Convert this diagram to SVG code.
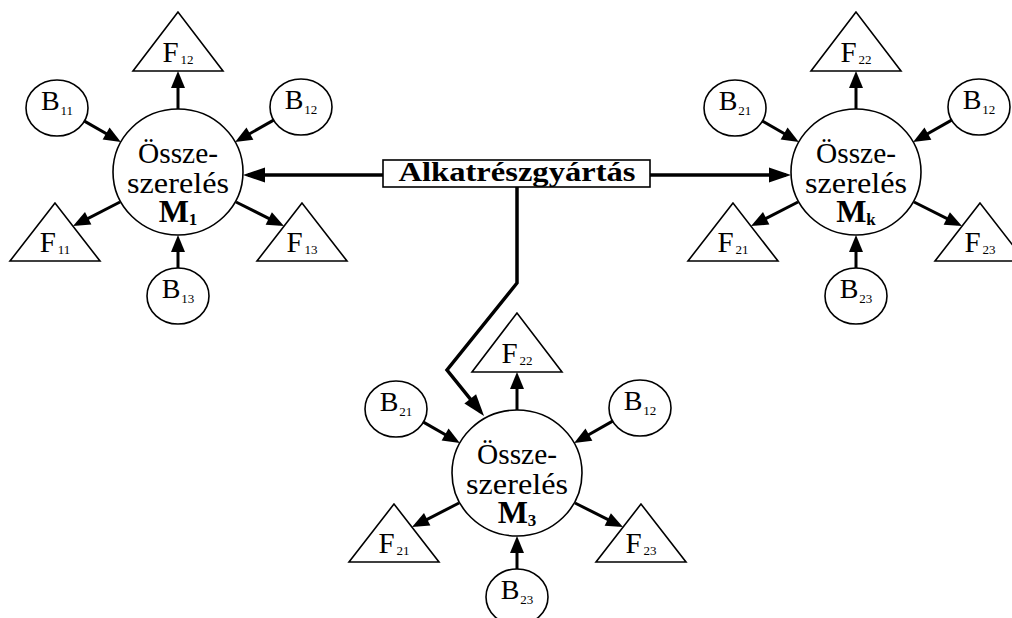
<svg xmlns="http://www.w3.org/2000/svg" width="1012" height="618" viewBox="0 0 1012 618">
<style>
.node{fill:#fff;stroke:#000;stroke-width:1.6}
.t{fill:#000;font-family:"Liberation Serif","DejaVu Serif",serif}
.main{font-size:29px}
.mm{font-size:32px;font-weight:bold}
.ms{font-size:17px;font-weight:bold}
.bl{font-size:28px}
.fl{font-size:29px}
.sub{font-size:13px}
.e{stroke:#000;stroke-width:3;fill:none}
.big{stroke:#000;stroke-width:3.5;fill:none;stroke-linejoin:miter}
</style>
<defs>
<marker id="ah" markerUnits="userSpaceOnUse" viewBox="-12 -7 17 14" refX="0" refY="0" markerWidth="17" markerHeight="14" orient="auto" overflow="visible">
<path d="M5,0 L-12,-7 L-12,7 Z" fill="#000"/>
</marker>
<marker id="ahb" markerUnits="userSpaceOnUse" viewBox="-17 -8 22 16" refX="0" refY="0" markerWidth="22" markerHeight="16" orient="auto" overflow="visible">
<path d="M5,0 L-17,-7.5 L-17,7.5 Z" fill="#000"/>
</marker>
</defs>
<rect width="1012" height="618" fill="#fff"/>

<g id="connectors">
<line class="big" x1="383" y1="175" x2="248" y2="175" marker-end="url(#ahb)"/>
<line class="big" x1="650" y1="175" x2="786" y2="175" marker-end="url(#ahb)"/>
<polyline class="big" points="517,187 517,283 447,370 480.9,412.1" marker-end="url(#ahb)"/>
<g transform="translate(178,172)">
<line class="e" x1="0" y1="-63" x2="0" y2="-96" marker-end="url(#ah)"/>
<line class="e" x1="-93.6" y1="-50.9" x2="-61.5" y2="-32.5" marker-end="url(#ah)"/>
<line class="e" x1="95.6" y1="-51.9" x2="61.5" y2="-32.5" marker-end="url(#ah)"/>
<line class="e" x1="-58" y1="30" x2="-100.5" y2="51.8" marker-end="url(#ah)"/>
<line class="e" x1="58" y1="30" x2="101.5" y2="51.8" marker-end="url(#ah)"/>
<line class="e" x1="0" y1="96" x2="0" y2="68" marker-end="url(#ah)"/>
</g>
<g transform="translate(856,172)">
<line class="e" x1="0" y1="-63" x2="0" y2="-96" marker-end="url(#ah)"/>
<line class="e" x1="-93.6" y1="-50.9" x2="-61.5" y2="-32.5" marker-end="url(#ah)"/>
<line class="e" x1="95.6" y1="-51.9" x2="61.5" y2="-32.5" marker-end="url(#ah)"/>
<line class="e" x1="-58" y1="30" x2="-100.5" y2="51.8" marker-end="url(#ah)"/>
<line class="e" x1="58" y1="30" x2="101.5" y2="51.8" marker-end="url(#ah)"/>
<line class="e" x1="0" y1="96" x2="0" y2="68" marker-end="url(#ah)"/>
</g>
<g transform="translate(517,473)">
<line class="e" x1="0" y1="-63" x2="0" y2="-96" marker-end="url(#ah)"/>
<line class="e" x1="-93.6" y1="-50.9" x2="-61.5" y2="-32.5" marker-end="url(#ah)"/>
<line class="e" x1="95.6" y1="-51.9" x2="61.5" y2="-32.5" marker-end="url(#ah)"/>
<line class="e" x1="-58" y1="30" x2="-100.5" y2="51.8" marker-end="url(#ah)"/>
<line class="e" x1="58" y1="30" x2="101.5" y2="51.8" marker-end="url(#ah)"/>
<line class="e" x1="0" y1="96" x2="0" y2="68" marker-end="url(#ah)"/>
</g>
</g>

<g id="alkatreszgyartas">
<rect class="node" x="383" y="160" width="267" height="27"/>
<text class="t" x="517" y="181" font-size="28" font-weight="bold" text-anchor="middle" textLength="237" lengthAdjust="spacingAndGlyphs">Alkatrészgyártás</text>
</g>

<g id="cluster-1" transform="translate(178,172)">
<g id="m1"><ellipse class="node" rx="65" ry="63"/>
<text class="t main" x="0" y="-9" text-anchor="middle" textLength="80" lengthAdjust="spacingAndGlyphs">Össze-</text>
<text class="t main" x="0" y="21" text-anchor="middle" textLength="102" lengthAdjust="spacingAndGlyphs">szerelés</text>
<text class="t mm" x="0" y="50" text-anchor="middle">M<tspan class="ms" dy="3">1</tspan></text></g>
<g id="f12"><polygon class="node" points="0,-160 -45,-101 45,-101"/>
<text class="t fl" x="0" y="-110" text-anchor="middle">F<tspan class="sub" dx="2" dy="2">12</tspan></text></g>
<g id="b11"><ellipse class="node" cx="-121" cy="-64" rx="31" ry="28"/>
<text class="t bl" x="-121" y="-62" text-anchor="middle">B<tspan class="sub" dx="1" dy="5">11</tspan></text></g>
<g id="b12"><ellipse class="node" cx="123" cy="-65" rx="31" ry="28"/>
<text class="t bl" x="123" y="-63" text-anchor="middle">B<tspan class="sub" dx="1" dy="5">12</tspan></text></g>
<g id="f11"><polygon class="node" points="-123,31 -168,89 -78,89"/>
<text class="t fl" x="-123" y="80" text-anchor="middle">F<tspan class="sub" dx="2" dy="2">11</tspan></text></g>
<g id="f13"><polygon class="node" points="124,31 79,89 169,89"/>
<text class="t fl" x="124" y="80" text-anchor="middle">F<tspan class="sub" dx="2" dy="2">13</tspan></text></g>
<g id="b13"><ellipse class="node" cx="0" cy="124" rx="31" ry="28"/>
<text class="t bl" x="0" y="126" text-anchor="middle">B<tspan class="sub" dx="1" dy="5">13</tspan></text></g>
</g>

<g id="cluster-k" transform="translate(856,172)">
<g id="mk"><ellipse class="node" rx="65" ry="63"/>
<text class="t main" x="0" y="-9" text-anchor="middle" textLength="80" lengthAdjust="spacingAndGlyphs">Össze-</text>
<text class="t main" x="0" y="21" text-anchor="middle" textLength="102" lengthAdjust="spacingAndGlyphs">szerelés</text>
<text class="t mm" x="0" y="50" text-anchor="middle">M<tspan class="ms" dy="3">k</tspan></text></g>
<g id="k-f22"><polygon class="node" points="0,-160 -45,-101 45,-101"/>
<text class="t fl" x="0" y="-110" text-anchor="middle">F<tspan class="sub" dx="2" dy="2">22</tspan></text></g>
<g id="k-b21"><ellipse class="node" cx="-121" cy="-64" rx="31" ry="28"/>
<text class="t bl" x="-121" y="-62" text-anchor="middle">B<tspan class="sub" dx="1" dy="5">21</tspan></text></g>
<g id="k-b12"><ellipse class="node" cx="123" cy="-65" rx="31" ry="28"/>
<text class="t bl" x="123" y="-63" text-anchor="middle">B<tspan class="sub" dx="1" dy="5">12</tspan></text></g>
<g id="k-f21"><polygon class="node" points="-123,31 -168,89 -78,89"/>
<text class="t fl" x="-123" y="80" text-anchor="middle">F<tspan class="sub" dx="2" dy="2">21</tspan></text></g>
<g id="k-f23"><polygon class="node" points="124,31 79,89 169,89"/>
<text class="t fl" x="124" y="80" text-anchor="middle">F<tspan class="sub" dx="2" dy="2">23</tspan></text></g>
<g id="k-b23"><ellipse class="node" cx="0" cy="124" rx="31" ry="28"/>
<text class="t bl" x="0" y="126" text-anchor="middle">B<tspan class="sub" dx="1" dy="5">23</tspan></text></g>
</g>

<g id="cluster-3" transform="translate(517,473)">
<g id="m3"><ellipse class="node" rx="65" ry="63"/>
<text class="t main" x="0" y="-9" text-anchor="middle" textLength="80" lengthAdjust="spacingAndGlyphs">Össze-</text>
<text class="t main" x="0" y="21" text-anchor="middle" textLength="102" lengthAdjust="spacingAndGlyphs">szerelés</text>
<text class="t mm" x="0" y="50" text-anchor="middle">M<tspan class="ms" dy="3">3</tspan></text></g>
<g id="m3-f22"><polygon class="node" points="0,-160 -45,-101 45,-101"/>
<text class="t fl" x="0" y="-110" text-anchor="middle">F<tspan class="sub" dx="2" dy="2">22</tspan></text></g>
<g id="m3-b21"><ellipse class="node" cx="-121" cy="-64" rx="31" ry="28"/>
<text class="t bl" x="-121" y="-62" text-anchor="middle">B<tspan class="sub" dx="1" dy="5">21</tspan></text></g>
<g id="m3-b12"><ellipse class="node" cx="123" cy="-65" rx="31" ry="28"/>
<text class="t bl" x="123" y="-63" text-anchor="middle">B<tspan class="sub" dx="1" dy="5">12</tspan></text></g>
<g id="m3-f21"><polygon class="node" points="-123,31 -168,89 -78,89"/>
<text class="t fl" x="-123" y="80" text-anchor="middle">F<tspan class="sub" dx="2" dy="2">21</tspan></text></g>
<g id="m3-f23"><polygon class="node" points="124,31 79,89 169,89"/>
<text class="t fl" x="124" y="80" text-anchor="middle">F<tspan class="sub" dx="2" dy="2">23</tspan></text></g>
<g id="m3-b23"><ellipse class="node" cx="0" cy="124" rx="31" ry="28"/>
<text class="t bl" x="0" y="126" text-anchor="middle">B<tspan class="sub" dx="1" dy="5">23</tspan></text></g>
</g>
</svg>
